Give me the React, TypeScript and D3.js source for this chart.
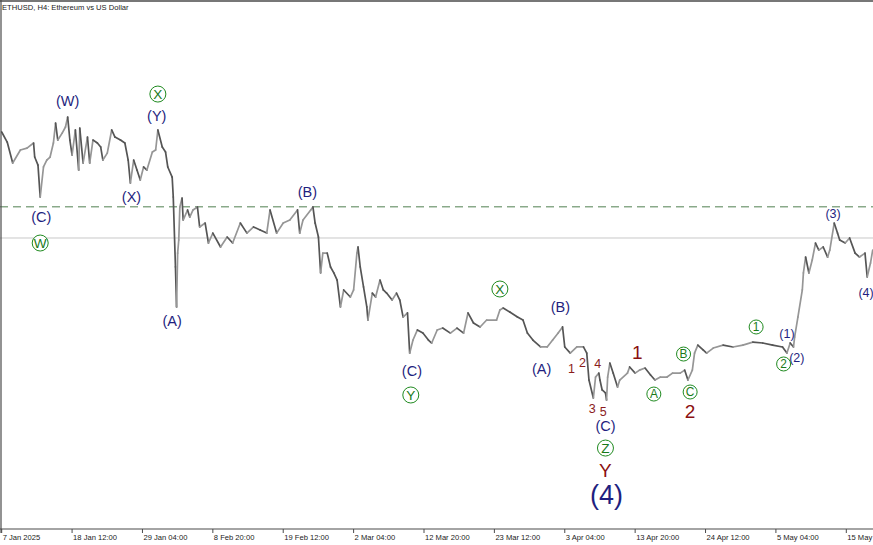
import React from "react";
import * as d3 from "d3";

const W = 873;
const H = 545;
const START = Date.UTC(2025, 0, 7, 20); // first H4 bar on the time axis
const BAR_MS = 4 * 3600 * 1000;

// H4 bar index (from START) and price
const bars = [
  0, 5, 10, 17, 23, 29, 30, 33, 35, 38, 41, 44, 47, 49, 51, 55, 58, 60, 62, 64,
  67, 70, 71, 74, 78, 80, 83, 87, 90, 92, 96, 100, 103, 108, 112, 115, 117, 120, 123, 126,
  129, 132, 137, 140, 142, 146, 149, 151, 155, 156, 158, 159, 160, 161, 162, 164, 165, 169, 171, 174,
  178, 180, 185, 188, 192, 199, 205, 210, 217, 223, 229, 235, 241, 244, 250, 256, 262, 269, 271, 274,
  281, 283, 285, 288, 290, 292, 296, 299, 302, 305, 308, 311, 317, 320, 323, 324, 326, 329, 332, 333,
  337, 340, 344, 347, 350, 355, 359, 362, 365, 369, 371, 374, 378, 383, 388, 391, 396, 401, 408, 414,
  420, 424, 429, 435, 441, 450, 453, 456, 462, 469, 474, 478, 483, 490, 496, 501, 506, 510, 512, 517,
  523, 529, 532, 534, 538, 540, 543, 544, 546, 549, 550, 551, 553, 556, 560, 562, 569, 571, 576, 580,
  585, 590, 594, 599, 605, 610, 617, 621, 624, 628, 630, 633, 638, 641, 647, 656, 665, 674, 683, 692,
  701, 710, 714, 717, 720, 721, 724, 728, 729, 731, 734, 737, 740, 743, 747, 751, 753, 757, 760, 762,
  767, 771, 776, 780, 785, 787, 790, 792,
];
const closes = [
  3390, 3316, 3162, 3258, 3272, 3309, 3206, 3147, 2912, 3133, 3184, 3206, 3309, 3456, 3331, 3382, 3427, 3500, 3331, 3221,
  3405, 3110, 3419, 3162, 3353, 3162, 3331, 3309, 3280, 3184, 3235, 3405, 3353, 3331, 3309, 3184, 3015, 3184, 3110, 3037,
  3133, 3110, 3243, 3258, 3405, 3280, 3243, 3133, 3059, 2912, 2398, 2104, 2500, 2596, 2839, 2905, 2743, 2817, 2765, 2817,
  2839, 2692, 2721, 2574, 2647, 2545, 2618, 2574, 2721, 2647, 2692, 2670, 2647, 2817, 2647, 2721, 2743, 2817, 2647, 2743,
  2817, 2839, 2721, 2618, 2354, 2500, 2500, 2398, 2354, 2302, 2104, 2229, 2177, 2229, 2500, 2545, 2398, 2251, 2104, 2008,
  2206, 2177, 2302, 2229, 2206, 2155, 2206, 2155, 2030, 2060, 1765, 1861, 1935, 1912, 1861, 1839, 1935, 1949, 1912, 1949,
  1912, 2060, 1986, 1957, 2008, 2008, 2082, 2096, 2067, 2030, 2008, 1912, 1861, 1810, 1810, 1861, 1912, 1957, 1810, 1765,
  1810, 1810, 1765, 1567, 1435, 1589, 1618, 1567, 1494, 1472, 1420, 1589, 1692, 1618, 1516, 1567, 1618, 1663, 1618, 1640,
  1655, 1604, 1567, 1589, 1589, 1618, 1618, 1640, 1567, 1640, 1765, 1824, 1787, 1765, 1802, 1824, 1810, 1824, 1846, 1839,
  1824, 1810, 1765, 1839, 1810, 1883, 2030, 2229, 2354, 2471, 2354, 2449, 2574, 2522, 2545, 2471, 2522, 2721, 2647, 2596,
  2574, 2611, 2500, 2471, 2500, 2324, 2427, 2522,
];

const tickTimes = [
  "2025-01-07T20:00Z", "2025-01-18T12:00Z", "2025-01-29T04:00Z", "2025-02-08T20:00Z",
  "2025-02-19T12:00Z", "2025-03-02T04:00Z", "2025-03-12T20:00Z", "2025-03-23T12:00Z",
  "2025-04-03T04:00Z", "2025-04-13T20:00Z", "2025-04-24T12:00Z", "2025-05-05T04:00Z",
  "2025-05-15T20:00Z",
];
const tickLabels = [
  "7 Jan 2025", "18 Jan 12:00", "29 Jan 04:00", "8 Feb 20:00", "19 Feb 12:00", "2 Mar 04:00",
  "12 Mar 20:00", "23 Mar 12:00", "3 Apr 04:00", "13 Apr 20:00", "24 Apr 12:00", "5 May 04:00",
  "15 May",
];

const levelDashed = 2840;
const levelSolid = 2611;

// wave labels: text, kind, bar, price
const waveText = ["(W)", "(C)", "(X)", "(Y)", "(A)", "(B)", "(C)", "(B)", "(A)", "1", "2", "4", "3", "5", "(C)", "Y", "(4)", "1", "2", "(1)", "(2)", "(3)", "(4)"];
const waveKind = ["navy", "navy", "navy", "navy", "navy", "navy", "navy", "navy", "navy", "red", "red", "red", "red", "red", "navy", "redBig", "navyBig", "redBig", "redBig", "navySmall", "navySmall", "navySmall", "navySmall"];
const waveBar = [60, 36, 118, 141, 155, 278, 373, 508, 491, 518, 528, 542, 537, 547, 549, 549, 550, 578, 626, 714, 723, 756, 786];
const wavePrice = [3618, 2765, 2912, 3507, 2001, 2949, 1633, 2104, 1648, 1655, 1699, 1692, 1361, 1339, 1229, 905, 729, 1773, 1339, 1912, 1729, 2794, 2214];

// circled green labels
const circleText = ["W", "X", "Y", "X", "Z", "A", "B", "C", "1", "2"];
const circleBar = [35, 142, 372, 453, 549, 593, 620, 626, 686, 711];
const circlePrice = [2574, 3669, 1457, 2236, 1067, 1464, 1758, 1479, 1957, 1685];
const circleBigCount = 5;

const kindStyle: Record<string, { size: number; color: string }> = {
  navy: { size: 14.5, color: "#1f1f80" },
  navySmall: { size: 12.5, color: "#1f1f80" },
  navyBig: { size: 27, color: "#1f1f80" },
  red: { size: 12.5, color: "#8b1c1c" },
  redBig: { size: 19, color: "#8b1010" },
};

const App = () => {
  const x = d3.scaleTime()
    .domain([new Date(START), new Date(START + 768 * BAR_MS)])
    .range([1.7, 846.3]);
  const y = d3.scaleLinear().domain([472, 4353]).range([529, 1]);
  const bx = (b: number) => x(new Date(START + b * BAR_MS));

  const pts = bars.map((b, i) => [bx(b), y(closes[i])] as [number, number]);
  const font = "'Liberation Sans', Arial, sans-serif";

  return (
    <svg width={W} height={H} style={{ position: "absolute", left: 0, top: 0, background: "#fff", fontFamily: font }}>
      {/* price levels */}
      <line x1={0} x2={W} y1={y(levelSolid)} y2={y(levelSolid)} stroke="#c8c8c8" strokeWidth={1} />
      <line x1={0} x2={W} y1={y(levelDashed)} y2={y(levelDashed)} stroke="#4f7f4f" strokeWidth={1} strokeDasharray="8,5" />

      {/* price path, darker on falling legs */}
      <g strokeWidth={1.7} strokeLinecap="round">
        {pts.slice(1).map((p, i) => (
          <line key={i} x1={pts[i][0]} y1={pts[i][1]} x2={p[0]} y2={p[1]}
            stroke={p[1] > pts[i][1] ? "#555" : "#969696"} />
        ))}
      </g>

      {/* frame */}
      <line x1={0} x2={W} y1={1} y2={1} stroke="#4a4a4a" strokeWidth={1.5} />
      <line x1={1} x2={1} y1={0} y2={533} stroke="#4a4a4a" strokeWidth={1.2} />
      <line x1={0} x2={W} y1={529} y2={529} stroke="#4a4a4a" strokeWidth={1.2} />

      {/* time axis */}
      {tickTimes.map((t, i) => {
        const tx = x(new Date(t));
        return (
          <g key={t}>
            <line x1={tx} x2={tx} y1={529} y2={533} stroke="#4a4a4a" />
            <text x={tx + 1} y={539.5} fontSize={7.6} fill="#222">{tickLabels[i]}</text>
          </g>
        );
      })}

      <text x={2} y={9.5} fontSize={7.6} fill="#222">ETHUSD, H4:  Ethereum vs US Dollar</text>

      {/* wave labels */}
      {waveText.map((t, i) => {
        const s = kindStyle[waveKind[i]];
        return (
          <text key={i} x={bx(waveBar[i])} y={y(wavePrice[i])} dy="0.36em" textAnchor="middle"
            fontSize={s.size} fill={s.color}>{t}</text>
        );
      })}
      {circleText.map((t, i) => {
        const cx = bx(circleBar[i]);
        const cy = y(circlePrice[i]);
        const r = i < circleBigCount ? 8 : 7;
        return (
          <g key={i}>
            <circle cx={cx} cy={cy} r={r} fill="#fff" stroke="#1f8a1f" strokeWidth={1} />
            <text x={cx} y={cy} dy="0.36em" textAnchor="middle" fontSize={r * 1.7} fill="#1a7a1a">{t}</text>
          </g>
        );
      })}
    </svg>
  );
};

export default App;
